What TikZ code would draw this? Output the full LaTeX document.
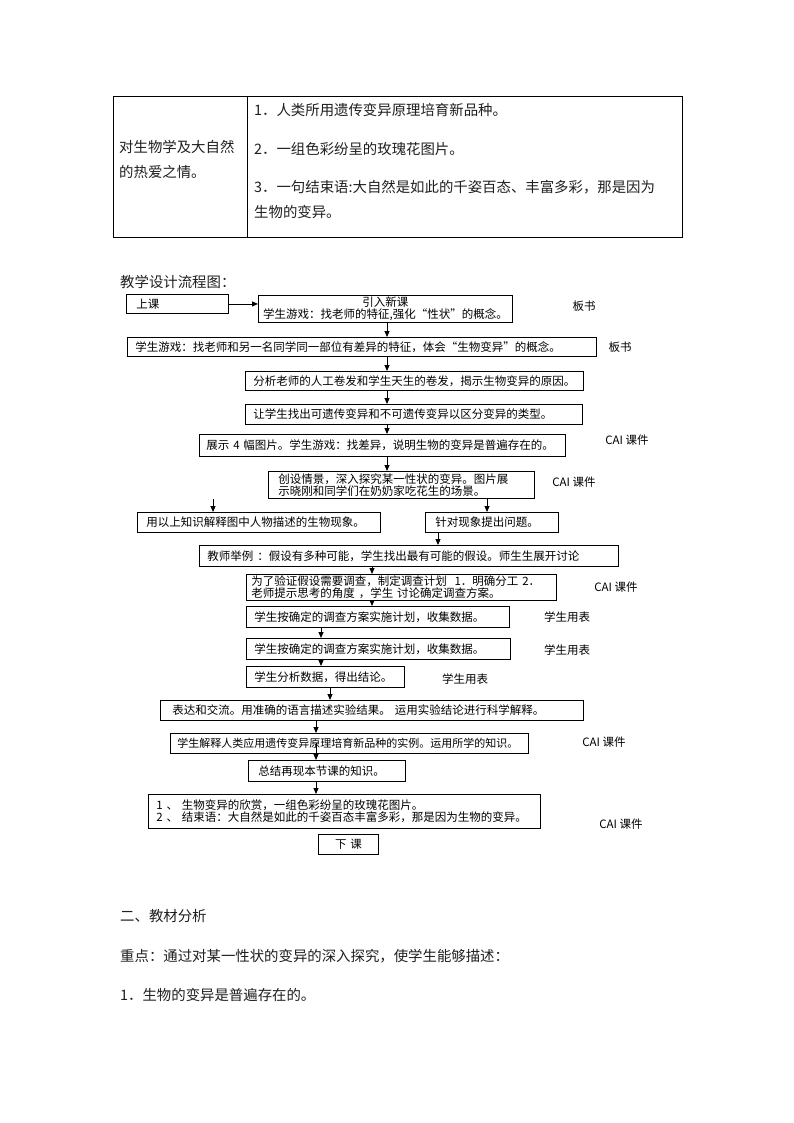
\documentclass[tikz,border=0pt]{standalone}
\usepackage{fontspec}
\setmainfont{Noto Sans CJK SC}
\usetikzlibrary{arrows.meta}
\begin{document}
\begin{tikzpicture}[x=1pt,y=-1pt,
  body/.style={font=\fontsize{14.4}{18}\selectfont, text=black!88, inner sep=0pt, anchor=west},
  fl/.style={font=\fontsize{11.5}{12.5}\selectfont},
  bx/.style={fl, draw=black, line width=0.9pt, anchor=north west, inner ysep=0pt, align=left},
  lab/.style={fl, inner sep=0pt},
  arr/.style={-{Triangle[length=6pt,width=5pt]}, line width=0.9pt}
]
\useasboundingbox[fill=white] (0,0) rectangle (794,1123);

% ---------- table ----------
\draw[line width=0.9pt] (113,96) rectangle (682,237);
\draw[line width=0.9pt] (247,96) -- (247,237);
\node[body] (tl1) at (119,147) {对生物学及大自然};
\node[body] (tl2) at (119,172) {的热爱之情。};
\node[body] (tr1) at (254,110) {1．人类所用遗传变异原理培育新品种。};
\node[body] (tr2) at (254,149) {2．一组色彩纷呈的玫瑰花图片。};
\node[body] (tr3) at (254,187) {3．一句结束语:大自然是如此的千姿百态、丰富多彩，那是因为};
\node[body] (tr4) at (254,212) {生物的变异。};

\node[body] (title) at (120,282) {教学设计流程图：};

% ---------- flow chart ----------
\node[bx, minimum width=102pt, minimum height=19pt, inner xsep=10pt, text width=82pt] (b0) at (126,294) {上课};
\node[bx, minimum width=254pt, minimum height=27pt, inner xsep=4pt, text width=246pt, align=center] (b1) at (258,295) {引入新课\\学生游戏：找老师的特征,强化“性状”的概念。};
\node[bx, minimum width=469pt, minimum height=19pt, inner xsep=8pt, text width=453pt] (b2) at (127,337) {学生游戏：找老师和另一名同学同一部位有差异的特征，体会“生物变异”的概念。};
\node[bx, minimum width=338pt, minimum height=19pt, inner xsep=8pt, text width=322pt] (b3) at (245,371) {分析老师的人工卷发和学生天生的卷发，揭示生物变异的原因。};
\node[bx, minimum width=337pt, minimum height=20pt, inner xsep=8pt, text width=321pt] (b4) at (245,404) {让学生找出可遗传变异和不可遗传变异以区分变异的类型。};
\node[bx, minimum width=366pt, minimum height=22pt, inner xsep=7pt, text width=352pt] (b5) at (199,434) {展示 4 幅图片。学生游戏：找差异，说明生物的变异是普遍存在的。};
\node[bx, minimum width=266pt, minimum height=27pt, inner xsep=10pt, text width=246pt] (b6) at (268,471) {创设情景，深入探究某一性状的变异。图片展\\示晓刚和同学们在奶奶家吃花生的场景。};
\node[bx, minimum width=243pt, minimum height=20pt, inner xsep=9pt, text width=225pt] (b7) at (137,512) {用以上知识解释图中人物描述的生物现象。};
\node[bx, minimum width=133pt, minimum height=20pt, inner xsep=10pt, text width=113pt] (b8) at (425,512) {针对现象提出问题。};
\node[bx, minimum width=419pt, minimum height=21pt, inner xsep=8pt, text width=403pt] (b9) at (199,545) {教师举例 ：假设有多种可能，学生找出最有可能的假设。师生生展开讨论};
\node[bx, minimum width=310pt, minimum height=26pt, inner xsep=5pt, text width=300pt] (b10) at (246,574) {为了验证假设需要调查，制定调查计划 \ 1．明确分工 2．\\老师提示思考的角度 ，学生 讨论确定调查方案。};
\node[bx, minimum width=263pt, minimum height=21pt, inner xsep=8pt, text width=247pt] (b11) at (246,606) {学生按确定的调查方案实施计划，收集数据。};
\node[bx, minimum width=264pt, minimum height=21pt, inner xsep=8pt, text width=248pt] (b12) at (246,638) {学生按确定的调查方案实施计划，收集数据。};
\node[bx, minimum width=158pt, minimum height=21pt, inner xsep=8pt, text width=142pt] (b13) at (246,666) {学生分析数据，得出结论。};
\node[bx, minimum width=423pt, minimum height=20pt, inner xsep=12pt, text width=399pt] (b14) at (160,700) {表达和交流。用准确的语言描述实验结果。 运用实验结论进行科学解释。};
\node[bx, minimum width=358pt, minimum height=20pt, inner xsep=7pt, text width=344pt, font=\fontsize{11}{12.5}\selectfont] (b15) at (170,733) {学生解释人类应用遗传变异原理培育新品种的实例。运用所学的知识。};
\node[bx, minimum width=157pt, minimum height=21pt, inner xsep=10pt, text width=137pt] (b16) at (248,760) {总结再现本节课的知识。};
\node[bx, minimum width=392pt, minimum height=34pt, inner xsep=8pt, text width=376pt] (b17) at (148,794) {1 、 生物变异的欣赏，一组色彩纷呈的玫瑰花图片。\\2 、 结束语：大自然是如此的千姿百态丰富多彩，那是因为生物的变异。};
\node[bx, minimum width=60pt, minimum height=20pt, inner xsep=4pt, text width=52pt, align=center] (b18) at (318,834) {下 课};

% side labels
\node[lab] (l1) at (584,306) {板书};
\node[lab] (l2) at (620,347) {板书};
\node[lab] (l3) at (627,440) {CAI 课件};
\node[lab] (l4) at (574,482) {CAI 课件};
\node[lab] (l5) at (616,587) {CAI 课件};
\node[lab] (l6) at (567,617) {学生用表};
\node[lab] (l7) at (567,650) {学生用表};
\node[lab] (l8) at (465,679) {学生用表};
\node[lab] (l9) at (604,742) {CAI 课件};
\node[lab] (l10) at (621,824) {CAI 课件};

% arrow columns
\coordinate (xa) at (387,0);
\coordinate (xc) at (487,0);
\coordinate (xd) at (438,0);
\coordinate (xe) at (372,0);
\coordinate (xf) at (321,0);
\coordinate (xg) at (330,0);
\coordinate (xh) at (316,0);
\coordinate (s6) at (213,499);

\draw[arr] (b0.east) -- (b0.east -| b1.west);
\draw[arr] (b1.south -| xa) -- (b2.north -| xa);
\draw[arr] (b2.south -| xa) -- (b3.north -| xa);
\draw[arr] (b3.south -| xa) -- (b4.north -| xa);
\draw[arr] (b4.south -| xa) -- (b5.north -| xa);
\draw[arr] (b5.south -| xa) -- (b6.north -| xa);
\draw[arr] (s6) -- (b7.north -| s6);
\draw[arr] (b6.south -| xc) -- (b8.north -| xc);
\draw[arr] (b8.south -| xd) -- (b9.north -| xd);
\draw[arr] (b9.south -| xe) -- (b10.north -| xe);
\draw[arr] (b10.south -| xe) -- (b11.north -| xe);
\draw[arr] (b11.south -| xf) -- (b12.north -| xf);
\draw[arr] (b12.south -| xf) -- (b13.north -| xf);
\draw[arr] (b13.south -| xg) -- (b14.north -| xg);
\draw[arr] (b14.south -| xh) -- (b15.north -| xh);
\draw[arr] (b15.center -| xh) -- (b16.north -| xh);
\draw[arr] (b16.south -| xh) -- (b17.north -| xh);

% ---------- text below ----------
\node[body] (h2) at (120,916) {二、教材分析};
\node[body] (p1) at (120,956) {重点：通过对某一性状的变异的深入探究，使学生能够描述：};
\node[body] (p2) at (120,995) {1．生物的变异是普遍存在的。};
\end{tikzpicture}
\end{document}
